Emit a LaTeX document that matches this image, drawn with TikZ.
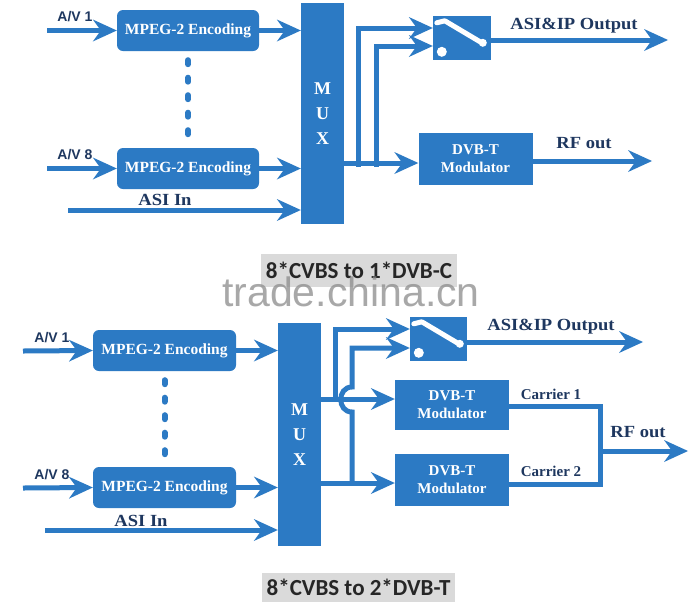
\documentclass[tikz,border=0pt]{standalone}
\usepackage{fontspec}
\setmainfont{Liberation Serif}
\newfontfamily\sansf{Liberation Sans}
\newfontfamily\calf{Carlito}
\newfontfamily\lblfont[FakeStretch=1.09]{Liberation Serif}
\usetikzlibrary{arrows.meta,calc}
\definecolor{dblue}{RGB}{44,122,196}
\definecolor{navy}{RGB}{30,55,95}
\definecolor{tgrey}{RGB}{218,218,218}
\definecolor{wm}{RGB}{140,140,140}
\begin{document}
\begin{tikzpicture}[x=1pt,y=-1pt,
 flow/.style={draw=dblue,line width=5pt},
 arr/.style={flow,-{Stealth[length=24pt,width=22pt,inset=8pt,line width=0pt]}},
 enc/.style={fill=dblue,rounded corners=6pt,minimum width=142pt,minimum height=41pt,inner sep=0pt,text=white,font=\fontsize{15.5}{18}\selectfont\bfseries},
 muxb/.style={fill=dblue,minimum width=43pt,inner sep=0pt,text=white,align=center,font=\fontsize{18}{25}\selectfont\bfseries},
 modb/.style={fill=dblue,minimum width=114pt,inner sep=0pt,text=white,align=center,font=\fontsize{15}{18}\selectfont\bfseries},
 swb/.style={fill=dblue,minimum width=58pt,minimum height=44pt,inner sep=0pt},
 avl/.style={text=navy,inner sep=0pt,font=\sansf\fontsize{14}{16}\selectfont\bfseries},
 lbl/.style={text=navy,inner sep=0pt,font=\lblfont\fontsize{17}{20}\selectfont\bfseries},
 clbl/.style={text=navy,inner sep=0pt,font=\fontsize{15}{18}\selectfont\bfseries},
 ttl/.style={fill=tgrey,inner sep=0pt,text=black!85,font=\calf\fontsize{23}{26}\selectfont\bfseries},
 dotline/.style={draw=dblue,line width=6pt,line cap=round,dash pattern=on 4pt off 13.5pt},
 swl/.style={draw=white,line width=5pt,line cap=round,line join=round}
]
\useasboundingbox (0,0) rectangle (700,611);
\fill[white] (0,0) rectangle (700,611);

% ================= TOP DIAGRAM =================
\node[enc] (enc1) at (188,30.5) {MPEG-2 Encoding};
\node[enc] (enc2) at (188,168.5) {MPEG-2 Encoding};
\node[muxb,minimum height=221pt] (mux1) at (322.5,113.5) {M\\U\\X};
\node[swb] (sw1) at (462,38) {};
\node[modb,minimum height=52pt] (mod1) at (475.5,159) {DVB-T\\Modulator};

\coordinate (av1s) at (47,30.5);
\coordinate (av8s) at (47,168.5);
\coordinate (asis) at (68,210);
\coordinate (ja) at (358,166.5);
\coordinate (jb) at (376,166.5);
\coordinate (aoe) at (668,40);
\coordinate (rfe) at (652,161);

\node[avl] (lav1) at (75,17) {A/V 1};
\node[avl] (lav8) at (75,155) {A/V 8};
\node[lbl] (lasi) at (165,200) {ASI In};
\node[lbl] (lout) at (574,26) {ASI\&IP Output};
\node[lbl] (lrf) at (584,143) {RF out};

\draw[arr] (av1s) -- (enc1.west);
\draw[arr] (av8s) -- (enc2.west);
\draw[arr] (enc1.east) -- (enc1.east -| mux1.west);
\draw[arr] (enc2.east) -- (enc2.east -| mux1.west);
\draw[arr] (asis) -- (asis -| mux1.west);
\draw[dotline] ($(enc1.south)+(0,9)$) -- ($(enc2.north)+(0,-9)$);

\draw[arr] ($(mod1.west -| mux1.east)+(0,4)$) -- ($(mod1.west)+(0,4)$);
\draw[arr] (ja) |- ($(sw1.west)+(0,-10)$);
\draw[arr] (jb) |- ($(sw1.west)+(0,8)$);
\draw[arr] ($(sw1.east)+(0,2)$) -- (aoe);
\draw[arr] ($(mod1.east)+(0,2)$) -- (rfe);

\draw[swl] ($(sw1.north west)+(4,7)$) -- ($(sw1.north west)+(12,5)$) -- ($(sw1.north west)+(49,27)$);
\fill[white] ($(sw1.north west)+(50,27)$) circle (4);
\fill[white] ($(sw1.north west)+(9,36)$) circle (5);

% ================= TITLES =================
\node[ttl,minimum width=196pt,minimum height=33pt] (t1) at (359,270) {8*CVBS to 1*DVB-C};
\node[text=wm,opacity=0.75,inner sep=0pt,font=\sansf\fontsize{41}{44}\selectfont] (wmk) at (351,292) {trade.china.cn};
\node[ttl,minimum width=193pt,minimum height=29pt] (t2) at (358.5,587.5) {8*CVBS to 2*DVB-T};

% ================= BOTTOM DIAGRAM =================
\node[enc,minimum width=143pt] (enc3) at (164.5,350.5) {MPEG-2 Encoding};
\node[enc,minimum width=143pt] (enc4) at (164.5,487.5) {MPEG-2 Encoding};
\node[muxb,minimum height=223pt] (mux2) at (299.5,434.5) {M\\U\\X};
\node[swb,minimum width=57pt] (sw2) at (438.5,339) {};
\node[modb,minimum height=50pt] (mod2) at (452,405) {DVB-T\\Modulator};
\node[modb,minimum height=52pt] (mod3) at (452,480) {DVB-T\\Modulator};

\coordinate (bav1s) at (23,351);
\coordinate (bav8s) at (23,488);
\coordinate (basis) at (45,530);
\coordinate (jc) at (335,401.5);
\coordinate (jd) at (352,485.5);
\coordinate (rfj) at (598,451);
\coordinate (baoe) at (643,342);
\coordinate (brfe) at (688,451);

\node[avl] (blav1) at (52,338) {A/V 1};
\node[avl] (blav8) at (52,475) {A/V 8};
\node[lbl] (blasi) at (141,521) {ASI In};
\node[lbl] (blout) at (551,327) {ASI\&IP Output};
\node[lbl] (blrf) at (638,432) {RF out};
\node[clbl] (lc1) at (551,394) {Carrier 1};
\node[clbl] (lc2) at (551,471) {Carrier 2};

\draw[arr] (bav1s) -- (enc3.west);
\draw[arr] (bav8s) -- (enc4.west);
\draw[arr] (enc3.east) -- (enc3.east -| mux2.west);
\draw[arr] (enc4.east) -- (enc4.east -| mux2.west);
\draw[arr] (basis) -- (basis -| mux2.west);
\draw[dotline] ($(enc3.south)+(0,9)$) -- ($(enc4.north)+(0,-9)$);

\draw[arr] ($(mod2.west -| mux2.east)+(0,-6)$) -- ($(mod2.west)+(0,-6)$);
\draw[arr] ($(mod3.west -| mux2.east)+(0,3)$) -- ($(mod3.west)+(0,3)$);
\draw[arr] (jc) |- ($(sw2.west)+(0,-10)$);
\draw[arr] (jd) -- (352,412) .. controls (337,412) and (337,387) .. (352,387) |- ($(sw2.west)+(0,9)$);
\draw[arr] ($(sw2.east)+(0,3)$) -- (baoe);

\draw[swl] ($(sw2.north west)+(4,7)$) -- ($(sw2.north west)+(12,5)$) -- ($(sw2.north west)+(49,27)$);
\fill[white] ($(sw2.north west)+(50,27)$) circle (4);
\fill[white] ($(sw2.north west)+(9,36)$) circle (5);

\draw[flow] ($(mod2.east)+(0,1)$) -| ($(rfj)+(2,0)$) |- ($(mod3.east)+(0,4)$);
\draw[arr] (rfj) -- (brfe);
\end{tikzpicture}
\end{document}
